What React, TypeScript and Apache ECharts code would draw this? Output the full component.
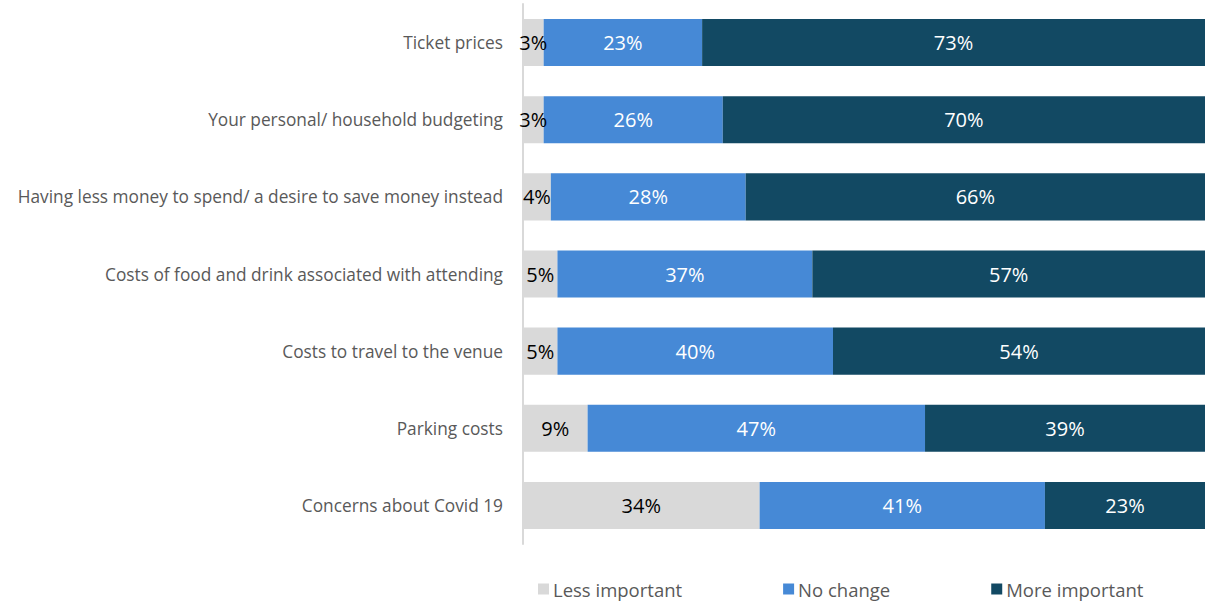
import React, { useEffect, useRef } from "react";
import * as echarts from "echarts";

const categories = [
  "Ticket prices",
  "Your personal/ household budgeting",
  "Having less money to spend/ a desire to save money instead",
  "Costs of food and drink associated with attending",
  "Costs to travel to the venue",
  "Parking costs",
  "Concerns about Covid 19",
];
const lessImportant = [3, 3, 4, 5, 5, 9, 34];
const noChange = [23, 26, 28, 37, 40, 47, 41];
const moreImportant = [73, 70, 66, 57, 54, 39, 23];
const seriesNames = ["Less important", "No change", "More important"];
const colors = ["#d9d9d9", "#4689d6", "#124963"];
const labelColors = ["#000000", "#ffffff", "#ffffff"];

const FONT = "'Open Sans', Lato, sans-serif";

export default function App() {
  const ref = useRef<HTMLDivElement>(null);
  useEffect(() => {
    if (!ref.current) return;
    const chart = echarts.init(ref.current, undefined, { renderer: "svg" });
    const raw = [lessImportant, noChange, moreImportant];
    const totals = categories.map((_, i) => raw[0][i] + raw[1][i] + raw[2][i]);
    const series = raw.map((arr, s) => ({
      name: seriesNames[s],
      type: "bar" as const,
      stack: "total",
      barCategoryGap: "39%",
      itemStyle: { color: colors[s] },
      data: arr.map((v, i) => (v / totals[i]) * 100),
      label: {
        show: true,
        position: "inside" as const,
        color: labelColors[s],
        fontSize: 20,
        fontFamily: FONT,
        formatter: (p: any) => raw[s][p.dataIndex] + "%",
      },
    }));
    chart.setOption({
      animation: false,
      grid: { left: 523, right: 0, top: 4, bottom: 58, containLabel: false },
      xAxis: {
        type: "value",
        min: 0,
        max: 100,
        show: false,
      },
      yAxis: {
        type: "category",
        data: categories,
        inverse: true,
        axisLine: { show: true, lineStyle: { color: "#d9d9d9", width: 2 } },
        axisTick: { show: false },
        axisLabel: {
          color: "#595959",
          fontSize: 17.3,
          fontFamily: FONT,
          margin: 20,
        },
      },
      legend: {
        data: seriesNames,
        left: 533,
        top: 574,
        padding: 5,
        itemWidth: 11,
        itemHeight: 11,
        itemGap: 101,
        icon: "rect",
        textStyle: {
          color: "#595959",
          fontSize: 18.5,
          lineHeight: 20,
          fontFamily: FONT,
          padding: [0, 0, 0, -1],
        },
      },
      series,
    });
    return () => chart.dispose();
  }, []);
  return <div ref={ref} style={{ width: 1205, height: 602, position: "absolute", left: 0, top: 0 }} />;
}
